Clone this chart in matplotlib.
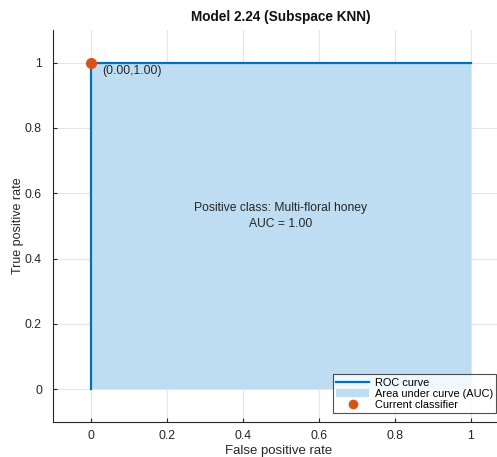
import matplotlib
matplotlib.use('Agg')
import matplotlib.pyplot as plt
from matplotlib.lines import Line2D
from matplotlib.patches import Patch

plt.rcParams['font.family'] = ['Liberation Sans', 'DejaVu Sans']

# ROC data
fpr = [0.0, 0.0, 1.0]
tpr = [0.0, 1.0, 1.0]
current_point = (0.0, 1.0)
auc = 1.00
positive_class = 'Multi-floral honey'
title = 'Model 2.24 (Subspace KNN)'
ticks = [0, 0.2, 0.4, 0.6, 0.8, 1]
tick_labels = ['0', '0.2', '0.4', '0.6', '0.8', '1']

BLUE = '#0072BD'
FILL = '#BEDDF2'
ORANGE = '#D95319'
TXT = '#262626'

fig = plt.figure(figsize=(4.97, 4.57), dpi=100)
ax = fig.add_axes([53/497, 35/457, 452/497, 392/457])

ax.fill_between(fpr, tpr, 0, color=FILL, linewidth=0, zorder=2)
ax.plot(fpr, tpr, color=BLUE, linewidth=1.6, zorder=3)
ax.plot(*current_point, 'o', color=ORANGE, markersize=7, zorder=5, clip_on=False)
ax.annotate('(%.2f,%.2f)' % current_point, current_point, xytext=(8, -8),
            textcoords='offset points', fontsize=8.8, color=TXT, zorder=6)

ax.text(0.5, 0.53, 'Positive class: %s\nAUC = %.2f' % (positive_class, auc),
        ha='center', va='center', fontsize=8.7, color=TXT, linespacing=1.45)

ax.set_xlim(-0.1, 1.09)
ax.set_ylim(-0.1, 1.1)
ax.set_xticks(ticks)
ax.set_xticklabels(tick_labels)
ax.set_yticks(ticks)
ax.set_yticklabels(tick_labels)
ax.tick_params(direction='in', length=3, labelsize=8.8, colors=TXT)
ax.tick_params(axis='x', pad=6)
ax.tick_params(axis='y', pad=8)
ax.grid(True, color='#e6e6e6', linewidth=0.8, zorder=0)
ax.set_axisbelow(True)
for s in ['top', 'right']:
    ax.spines[s].set_visible(False)
for s in ['left', 'bottom']:
    ax.spines[s].set_color(TXT)
    ax.spines[s].set_linewidth(0.8)

ax.set_xlabel('False positive rate', fontsize=9.5, color=TXT, labelpad=2)
ax.yaxis.set_label_coords(-(53 - 18) / 452, 0.5)
ax.set_ylabel('True positive rate', fontsize=9, color=TXT, va='center')
fig.text(281/497, 1 - 17/457, title, ha='center', va='center',
         fontsize=9.8, fontweight='bold', color='#111111')

handles = [Line2D([0], [0], color=BLUE, linewidth=1.6),
           Patch(facecolor=FILL, edgecolor='none'),
           Line2D([0], [0], marker='o', color=ORANGE, linestyle='none', markersize=6)]
labels = ['ROC curve', 'Area under curve (AUC)', 'Current classifier']
leg = fig.legend(handles, labels, loc='lower left',
                 bbox_to_anchor=(333/497, 1 - 413/457), fontsize=7.9,
                 frameon=True, fancybox=False, borderpad=0.3, labelspacing=0.1,
                 handlelength=3.0, handletextpad=0.5, borderaxespad=0)
leg.get_frame().set_edgecolor(TXT)
leg.get_frame().set_linewidth(0.8)

fig.savefig('out.png', dpi=100)
